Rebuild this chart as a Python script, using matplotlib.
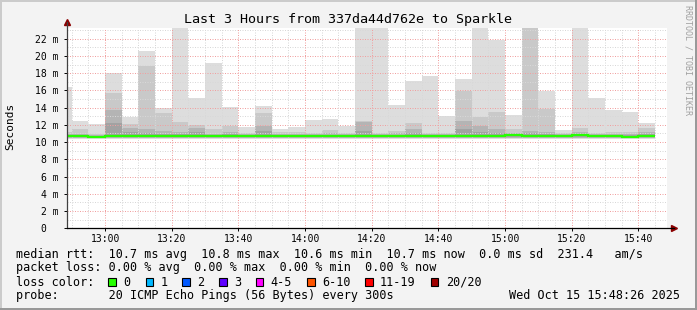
import numpy as np
import matplotlib.pyplot as plt
from matplotlib.patches import Rectangle

# minutes after 12:00, one sample every 5 minutes (bar start)
bar_start = np.arange(45, 225, 5)

# smoke layers (ms), outermost (lightest) first
smoke_max = [16.4, 12.45, 12.05, 18.0, 12.95, 20.55, 14.0, 24.0, 15.1, 19.15, 14.05, 11.75,
             14.2, 11.5, 11.8, 12.55, 12.7, 11.9, 24.0, 24.0, 14.3, 17.1, 17.7, 13.05,
             17.3, 24.0, 21.85, 13.15, 24.0, 15.95, 11.4, 24.0, 15.1, 13.7, 13.5, 12.2]
smoke_l2 = [11.15, 11.5, 10.95, 15.65, 12.05, 18.85, 13.4, 12.3, 12.0, 11.5, 11.9, 11.1,
            13.4, 11.15, 11.2, 11.1, 11.35, 11.1, 12.5, 11.1, 11.25, 12.2, 11.1, 11.1,
            15.9, 12.95, 13.45, 11.5, 24.0, 13.85, 11.0, 11.65, 11.1, 11.15, 11.2, 11.6]
smoke_l3 = [10.9, 10.95, 10.85, 13.7, 11.6, 11.55, 11.25, 11.2, 11.6, 10.95, 11.15, 10.9,
            11.9, 10.95, 10.95, 10.9, 11.0, 10.9, 12.3, 10.95, 11.0, 11.5, 10.9, 10.9,
            12.45, 11.9, 11.5, 11.0, 11.3, 11.15, 10.9, 11.15, 10.9, 10.9, 10.95, 11.15]
smoke_l4 = [10.8, 10.8, 10.75, 12.2, 11.15, 11.0, 10.9, 10.9, 11.15, 10.8, 10.9, 10.8,
            11.25, 10.8, 10.8, 10.8, 10.85, 10.8, 11.25, 10.8, 10.85, 11.0, 10.8, 10.8,
            11.5, 11.15, 11.05, 10.85, 11.0, 10.9, 10.8, 10.9, 10.8, 10.8, 10.8, 10.9]
smoke_low = [10.35, 10.45, 10.5, 10.55]
median = [10.7, 10.7, 10.6, 10.7, 10.7, 10.7, 10.75, 10.7, 10.7, 10.65, 10.7, 10.7,
          10.7, 10.65, 10.7, 10.7, 10.7, 10.7, 10.75, 10.7, 10.7, 10.7, 10.7, 10.7,
          10.7, 10.75, 10.65, 10.8, 10.7, 10.7, 10.7, 10.8, 10.75, 10.7, 10.6, 10.7]

x_ticks = [60, 80, 100, 120, 140, 160, 180, 200, 220]
x_labels = ["13:00", "13:20", "13:40", "14:00", "14:20", "14:40", "15:00", "15:20", "15:40"]
y_ticks = list(range(0, 23, 2))
y_labels = ["0  "] + [f"{v} m" for v in y_ticks[1:]]

loss_labels = ["0", "1", "2", "3", "4-5", "6-10", "11-19", "20/20"]
loss_colors = ["#26ff00", "#00b8ff", "#0059ff", "#5e00ff", "#ff00ff", "#ff5500", "#ff0000", "#a00000"]

plt.rcParams['font.family'] = 'DejaVu Sans Mono'

W, H = 697, 310
fig = plt.figure(figsize=(W / 100, H / 100), dpi=100, facecolor='#f3f3f3')
ax = fig.add_axes([66.5 / W, (H - 228.3) / H, 600 / W, 200 / H])
ax.set_facecolor('white')

layer_colors = ['#dddddd', '#c9c9c9', '#b4b4b4', '#a2a2a2']
for vals, low, col in zip([smoke_max, smoke_l2, smoke_l3, smoke_l4], smoke_low, layer_colors):
    vals = np.array(vals)
    ax.bar(bar_start, vals - low, bottom=low, width=5, align='edge', color=col,
           linewidth=0, zorder=1)

# grid drawn above the smoke, like rrdtool
for v in range(1, 24):
    major = v % 2 == 0
    ax.axhline(v, color='#f0a0a0' if major else '#d8d8d8', lw=0.72,
               dashes=(1, 1.5), zorder=2)
for m in range(50, 230, 5):
    major = m % 20 == 0
    ax.axvline(m, color='#f0a0a0' if major else '#d8d8d8', lw=0.72,
               dashes=(1, 1.5), zorder=2)

edges = np.append(bar_start, bar_start[-1] + 5)
ax.stairs(median, edges, baseline=None, color='#26ff00', lw=1.6, zorder=3)

ax.set_xlim(48.43, 228.43)
ax.set_ylim(0, 23.2)
ax.set_xticks(x_ticks, x_labels)
ax.set_yticks(y_ticks, y_labels)
ax.tick_params(axis='both', labelsize=7, length=2.5, width=0.7, color='black', pad=1.5)
ax.tick_params(axis='y', pad=3)
for s in ax.spines.values():
    s.set_visible(False)

# axes with arrow heads
ax.plot([0, 0], [0, 1.03], transform=ax.transAxes, color='#404040', lw=0.9, clip_on=False, zorder=4)
ax.plot([0, 1.012], [0, 0], transform=ax.transAxes, color='black', lw=0.9, clip_on=False, zorder=4)
ax.plot([0], [1.03], marker='^', ms=4, color='#8b0000', transform=ax.transAxes, clip_on=False)
ax.plot([1.012], [0], marker='>', ms=4, color='#8b0000', transform=ax.transAxes, clip_on=False)

fig.text(348 / W, 1 - 19 / H, "Last 3 Hours from 337da44d762e to Sparkle",
         fontsize=9.6, ha='center', va='center')
fig.text(10 / W, 1 - 126 / H, "Seconds", fontsize=8, rotation=90, ha='center', va='center')
fig.text(688 / W, 1 - 60 / H, "RRDTOOL / TOBI OETIKER", fontsize=6, rotation=270,
         ha='center', va='center', color='#a0a0a0')

fs = 8.5
fig.text(16 / W, 1 - 254.3 / H,
         "median rtt:  10.7 ms avg  10.8 ms max  10.6 ms min  10.7 ms now  0.0 ms sd  231.4   am/s",
         fontsize=fs, va='center')
fig.text(16 / W, 1 - 268 / H,
         "packet loss: 0.00 % avg  0.00 % max  0.00 % min  0.00 % now",
         fontsize=fs, va='center')
fig.text(16 / W, 1 - 282 / H, "loss color:", fontsize=fs, va='center')
box_x = [108.3, 145.7, 182.3, 219, 255.7, 307.3, 365, 430.7]
for bx, lab, col in zip(box_x, loss_labels, loss_colors):
    fig.add_artist(Rectangle((bx / W, (H - 285.7) / H), 7.5 / W, 7.5 / H,
                             transform=fig.transFigure, facecolor=col,
                             edgecolor='black', lw=0.8))
    fig.text((bx + 15) / W, 1 - 282 / H, lab, fontsize=fs, va='center')
fig.text(16 / W, 1 - 295.7 / H,
         "probe:       20 ICMP Echo Pings (56 Bytes) every 300s",
         fontsize=fs, va='center')
fig.text(680 / W, 1 - 295.7 / H, "Wed Oct 15 15:48:26 2025", fontsize=fs,
         va='center', ha='right')

# 3D frame of the rrdtool image
fig.add_artist(Rectangle((0, 1 - 2 / H), 1, 2 / H, transform=fig.transFigure, color='#cbcbcb', lw=0))
fig.add_artist(Rectangle((0, 0), 2 / W, 1, transform=fig.transFigure, color='#cbcbcb', lw=0))
fig.add_artist(Rectangle((1 - 2 / W, 0), 2 / W, 1, transform=fig.transFigure, color='#999999', lw=0))
fig.add_artist(Rectangle((0, 0), 1, 2 / H, transform=fig.transFigure, color='#999999', lw=0))

fig.savefig("out.png", dpi=100, facecolor=fig.get_facecolor())
